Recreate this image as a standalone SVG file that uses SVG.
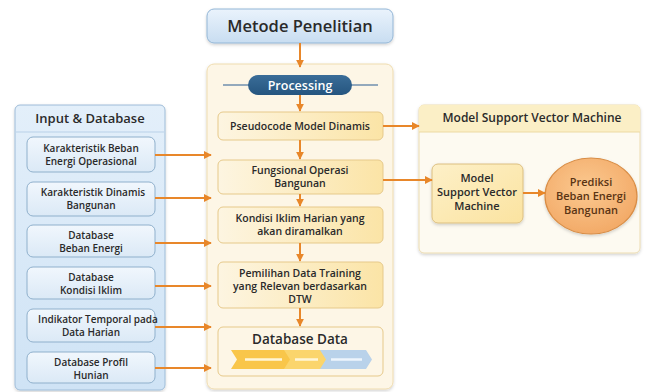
<svg xmlns="http://www.w3.org/2000/svg" width="646" height="392" viewBox="0 0 646 392">
<defs>
  <linearGradient id="gTitle" x1="0" y1="0" x2="0" y2="1"><stop offset="0" stop-color="#eaf3fc"/><stop offset="1" stop-color="#c8ddf1"/></linearGradient>
  <linearGradient id="gLeft" x1="0" y1="0" x2="0" y2="1"><stop offset="0" stop-color="#e3effa"/><stop offset="1" stop-color="#cfe3f5"/></linearGradient>
  <linearGradient id="gBlueBox" x1="0" y1="0" x2="0" y2="1"><stop offset="0" stop-color="#f1f7fd"/><stop offset="1" stop-color="#dbe9f6"/></linearGradient>
  <linearGradient id="gNode" x1="0" y1="0" x2="1" y2="0"><stop offset="0" stop-color="#fdf5e1"/><stop offset="1" stop-color="#fbe4a6"/></linearGradient>
  <linearGradient id="gSvm" x1="0" y1="0" x2="1" y2="1"><stop offset="0" stop-color="#fdf0c8"/><stop offset="1" stop-color="#fbe3a0"/></linearGradient>
  <radialGradient id="gCircle" cx="0.45" cy="0.4" r="0.65"><stop offset="0" stop-color="#fbc990"/><stop offset="1" stop-color="#f2a865"/></radialGradient>
  <linearGradient id="gPill" x1="0" y1="0" x2="0" y2="1"><stop offset="0" stop-color="#3a6d98"/><stop offset="1" stop-color="#25557f"/></linearGradient>
  <filter id="sh" x="-10%" y="-10%" width="120%" height="130%"><feDropShadow dx="0" dy="1.5" stdDeviation="1.5" flood-color="#000" flood-opacity="0.18"/></filter>
  <marker id="ah" viewBox="0 0 10 10" refX="9" refY="5" markerWidth="8" markerHeight="8" markerUnits="userSpaceOnUse" orient="auto"><path d="M0,0 L10,5 L0,10 Z" fill="#e8872a"/></marker>
</defs>
<style>
  text { font-family: "Open Sans", "Noto Sans", "Liberation Sans", sans-serif; fill: #2a2a2a; text-anchor: middle; font-weight: 600; }
  .conn line, .conn path { stroke: #e8872a; stroke-width: 2; fill: none; marker-end: url(#ah); }
  .lbox { fill: url(#gBlueBox); stroke: #8fb0cc; stroke-width: 1; }
  .lt { font-size: 10px; }
  .pnode { fill: url(#gNode); stroke: #e6c98a; stroke-width: 1; }
  .pt { font-size: 10.5px; }
</style>
<rect width="646" height="392" fill="#ffffff"/>

<!-- Title -->
<g id="title">
  <rect x="207" y="9" width="186" height="34" rx="7" fill="url(#gTitle)" stroke="#93b6d6" filter="url(#sh)"/>
  <text x="300" y="32" font-size="16.5" font-weight="700" fill="#222">Metode Penelitian</text>
</g>

<!-- Left container -->
<g id="input-database">
  <rect x="15" y="105" width="150" height="285" rx="5" fill="url(#gLeft)" stroke="#9ebcd8" filter="url(#sh)"/>
  <line x1="16" y1="132" x2="164" y2="132" stroke="#b9d1e8"/>
  <text x="90" y="123" font-size="13" font-weight="700">Input &amp; Database</text>
</g>
<g id="in1"><rect class="lbox" x="27" y="137" width="128" height="35" rx="6"/><text class="lt" x="91" y="152">Karakteristik Beban</text><text class="lt" x="91" y="165">Energi Operasional</text></g>
<g id="in2"><rect class="lbox" x="27" y="182" width="128" height="34" rx="6"/><text class="lt" x="93" y="196">Karakteristik Dinamis</text><text class="lt" x="91" y="209">Bangunan</text></g>
<g id="in3"><rect class="lbox" x="27" y="225" width="128" height="32" rx="6"/><text class="lt" x="91" y="239">Database</text><text class="lt" x="91" y="252">Beban Energi</text></g>
<g id="in4"><rect class="lbox" x="27" y="267" width="128" height="32" rx="6"/><text class="lt" x="91" y="281">Database</text><text class="lt" x="91" y="294">Kondisi Iklim</text></g>
<g id="in5"><rect class="lbox" x="27" y="309" width="128" height="33" rx="6"/><text class="lt" x="98" y="323">Indikator Temporal pada</text><text class="lt" x="91" y="336">Data Harian</text></g>
<g id="in6"><rect class="lbox" x="27" y="352" width="128" height="31" rx="6"/><text class="lt" x="91" y="366">Database Profil</text><text class="lt" x="91" y="379">Hunian</text></g>

<!-- Processing container -->
<g id="processing">
  <rect x="207" y="64" width="186" height="325" rx="7" fill="#fdf6e6" stroke="#efdcaf" filter="url(#sh)"/>
  <line x1="223" y1="85" x2="378" y2="85" stroke="#6f8fae" stroke-width="1.5"/>
  <rect x="248" y="75" width="104" height="20" rx="10" fill="url(#gPill)"/>
  <text x="300" y="89.5" font-size="12.5" font-weight="700" fill="#ffffff" style="fill:#ffffff">Processing</text>
</g>
<g id="p1"><rect class="pnode" x="218" y="112" width="165" height="28" rx="5"/><text class="pt" x="300" y="130">Pseudocode Model Dinamis</text></g>
<g id="p2"><rect class="pnode" x="218" y="160" width="165" height="34" rx="5"/><text class="pt" x="300" y="174">Fungsional Operasi</text><text class="pt" x="300" y="187">Bangunan</text></g>
<g id="p3"><rect class="pnode" x="218" y="207" width="165" height="36" rx="5"/><text class="pt" x="300" y="222">Kondisi Iklim Harian yang</text><text class="pt" x="300" y="235">akan diramalkan</text></g>
<g id="p4"><rect class="pnode" x="218" y="262" width="165" height="46" rx="5"/><text class="pt" x="300" y="277">Pemilihan Data Training</text><text class="pt" x="300" y="290">yang Relevan berdasarkan</text><text class="pt" x="300" y="303">DTW</text></g>
<g id="p5">
  <rect x="218" y="327" width="165" height="49" rx="5" fill="#fdf6e6" stroke="#e6c98a"/>
  <text x="300" y="344" font-size="13.5" font-weight="700">Database Data</text>
  <path d="M231,350 L285,350 L291,359.5 L285,369 L231,369 L237,359.5 Z" fill="#f9c64a"/>
  <path d="M284,350 L321,350 L327,359.5 L321,369 L284,369 L290,359.5 Z" fill="#fbd56c"/>
  <path d="M320,350 L366,350 L372,359.5 L366,369 L320,369 L326,359.5 Z" fill="#b9d2ea"/>
  <line x1="245" y1="359.5" x2="282" y2="359.5" stroke="#fff6d8" stroke-width="2.5"/>
  <line x1="295" y1="359.5" x2="318" y2="359.5" stroke="#fff6d8" stroke-width="2.5"/>
  <line x1="331" y1="359.5" x2="362" y2="359.5" stroke="#eef5fc" stroke-width="2.5"/>
</g>

<!-- Right container -->
<g id="svm-panel">
  <rect x="419" y="105" width="221" height="148" rx="5" fill="#fdfaf1" stroke="#ecdcb1" filter="url(#sh)"/>
  <path d="M419,132 L419,110 Q419,105 424,105 L635,105 Q640,105 640,110 L640,132 Z" fill="#fbefc6"/>
  <line x1="419" y1="132" x2="640" y2="132" stroke="#ecd9a3"/>
  <text x="532" y="122" font-size="12" font-weight="700">Model Support Vector Machine</text>
</g>
<g id="svm-model">
  <rect x="432" y="164" width="91" height="59" rx="6" fill="url(#gSvm)" stroke="#dcbf80" filter="url(#sh)"/>
  <text x="477" y="182" font-size="11" font-weight="700">Model</text>
  <text x="477" y="196" font-size="11" font-weight="700">Support Vector</text>
  <text x="477" y="210" font-size="11" font-weight="700">Machine</text>
</g>
<g id="prediksi">
  <ellipse cx="591" cy="196" rx="46" ry="38" fill="url(#gCircle)" stroke="#d98d45" stroke-width="1.2" filter="url(#sh)"/>
  <text x="591" y="186" font-size="11" font-weight="700" style="fill:#5a3414">Prediksi</text>
  <text x="591" y="200" font-size="11" font-weight="700" style="fill:#5a3414">Beban Energi</text>
  <text x="591" y="214" font-size="11" font-weight="700" style="fill:#5a3414">Bangunan</text>
</g>

<!-- Connectors -->
<g class="conn" id="connectors">
  <line x1="300" y1="43" x2="300" y2="67"/>
  <line x1="300" y1="95" x2="300" y2="111"/>
  <line x1="300" y1="140" x2="300" y2="159"/>
  <line x1="300" y1="194" x2="300" y2="206"/>
  <line x1="300" y1="243" x2="300" y2="261"/>
  <line x1="300" y1="308" x2="300" y2="326"/>
  <line x1="155" y1="155" x2="211" y2="155"/>
  <line x1="155" y1="198" x2="211" y2="198"/>
  <line x1="155" y1="243" x2="211" y2="243"/>
  <line x1="155" y1="286" x2="211" y2="286"/>
  <line x1="155" y1="327" x2="211" y2="327"/>
  <line x1="155" y1="368" x2="211" y2="368"/>
  <line x1="383" y1="126" x2="419" y2="126"/>
  <line x1="383" y1="180" x2="432" y2="180"/>
  <line x1="523" y1="193" x2="545" y2="193"/>
</g>
</svg>
